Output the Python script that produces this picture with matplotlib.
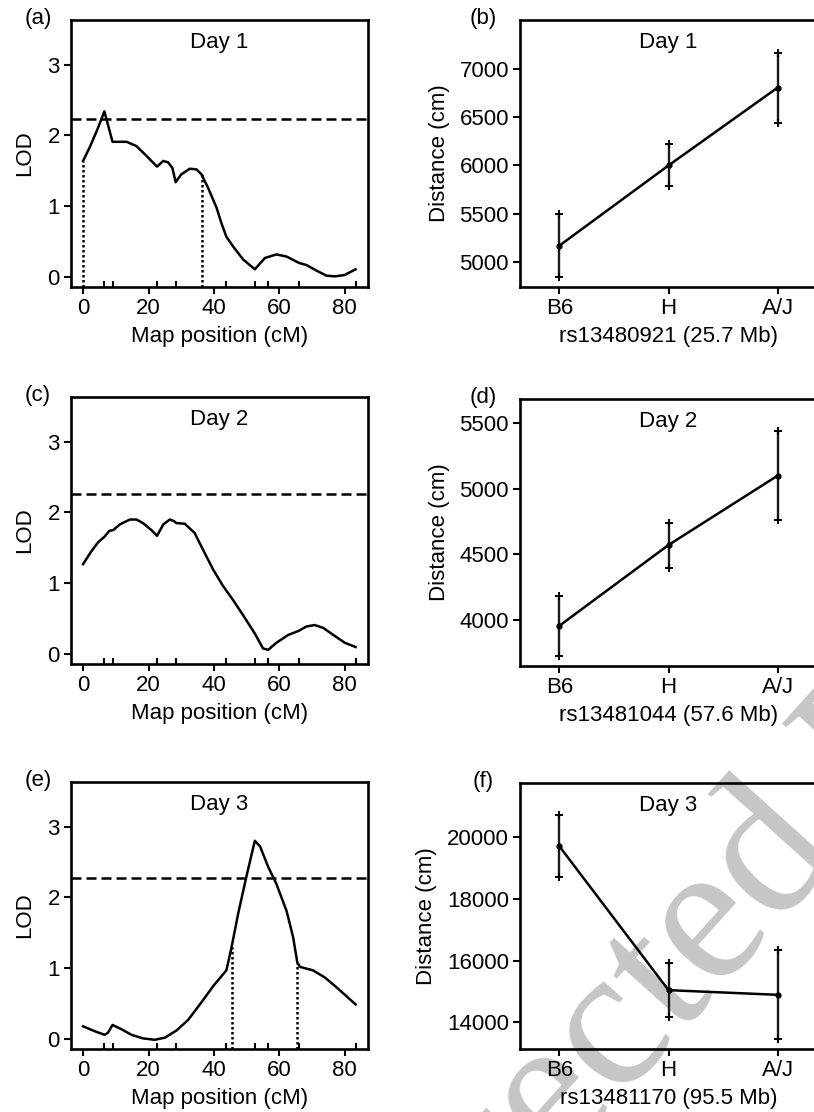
import numpy as np
import matplotlib
matplotlib.use("Agg")
import matplotlib.pyplot as plt

plt.rcParams['font.family'] = ['Liberation Sans', 'DejaVu Sans']
plt.rcParams['font.size'] = 16

# marker positions along the chromosome (cM)
markers = [0, 6.3, 9.0, 22.6, 28.3, 43.8, 52.5, 56.6, 65.9, 83.3]

# LOD profiles
day1_pos = [0, 2.2, 4.5, 6.5, 9.0, 13.3, 16.3, 19.4, 22.6, 24.5, 26.0, 27.3, 28.3, 30.0,
            32.6, 34.7, 36.2, 38.2, 40.8, 42.3, 43.8, 45.9, 48.9, 52.5, 55.6, 59.1, 62.2,
            66.0, 68.3, 71.4, 74.4, 77.0, 80.0, 83.3]
day1_lod = [1.64, 1.85, 2.10, 2.34, 1.91, 1.91, 1.85, 1.71, 1.56, 1.64, 1.62, 1.54, 1.34, 1.45,
            1.53, 1.52, 1.45, 1.26, 0.98, 0.76, 0.57, 0.43, 0.25, 0.11, 0.27, 0.32, 0.29,
            0.20, 0.17, 0.09, 0.02, 0.01, 0.03, 0.11]

day2_pos = [0, 2.5, 4.6, 6.6, 8.0, 9.2, 11.2, 14.3, 16.3, 18.3, 20.9, 22.6, 24.5, 26.5, 27.7,
            28.5, 31.1, 34.1, 36.7, 39.8, 42.8, 45.9, 48.9, 52.5, 55.0, 56.6, 59.1, 62.7,
            66.0, 68.3, 70.8, 73.4, 76.5, 80.0, 83.3]
day2_lod = [1.27, 1.45, 1.58, 1.66, 1.74, 1.75, 1.83, 1.90, 1.90, 1.85, 1.75, 1.67, 1.83, 1.90, 1.88,
            1.85, 1.84, 1.71, 1.47, 1.19, 0.96, 0.76, 0.55, 0.29, 0.08, 0.06, 0.16, 0.27,
            0.33, 0.39, 0.41, 0.37, 0.27, 0.16, 0.10]

day3_pos = [0, 3.6, 6.6, 7.6, 9.0, 11.7, 14.8, 18.3, 21.9, 25.0, 28.5, 32.1, 36.2, 39.8, 43.8,
            45.4, 47.4, 50.0, 52.5, 54.1, 56.6, 59.1, 62.2, 64.2, 65.5, 66.3, 70.3, 73.9,
            77.5, 83.3]
day3_lod = [0.18, 0.11, 0.06, 0.09, 0.20, 0.14, 0.06, 0.01, -0.01, 0.02, 0.12, 0.27, 0.52, 0.75, 0.97,
            1.30, 1.77, 2.31, 2.80, 2.72, 2.43, 2.19, 1.81, 1.44, 1.08, 1.02, 0.97, 0.87,
            0.73, 0.49]

thresholds = [2.23, 2.26, 2.28]
day1_ci = [0, 36.2]
day3_ci = [45.4, 65.5]

# genotype means with interval ends
genotypes = ['B6', 'H', 'A/J']
day1_mean = [5169, 6000, 6807]
day1_low = [4845, 5783, 6438]
day1_high = [5496, 6221, 7169]
day2_mean = [3952, 4569, 5099]
day2_low = [3722, 4395, 4763]
day2_high = [4181, 4735, 5436]
day3_mean = [19699, 15043, 14892]
day3_low = [18710, 14161, 13462]
day3_high = [20699, 15935, 16333]

snps = ['rs13480921 (25.7 Mb)', 'rs13481044 (57.6 Mb)', 'rs13481170 (95.5 Mb)']

W, H = 814, 1112
fig = plt.figure(figsize=(W / 100, H / 100), dpi=100)

def box(left, top, bottom, width=297):
    return fig.add_axes([left / W, (H - bottom) / H, width / W, (bottom - top) / H])

def style(ax):
    for s in ax.spines.values():
        s.set_linewidth(1.9)
    ax.set_facecolor('none')
    ax.tick_params(which='major', direction='out', length=5, width=1.5, pad=3)

def lod_panel(ax, pos, lod, thr, ci, day, letter):
    style(ax)
    ax.plot(pos, lod, color='black', lw=1.8, solid_joinstyle='round')
    ax.axhline(thr, color='black', lw=1.8, dashes=(4, 2))
    ylo = -0.14
    for c in ci:
        ax.vlines(c, ylo, np.interp(c, pos, lod), color='black', lw=1.8, linestyles=(0, (1, 1)))
    ax.set_xlim(-3.7, 87.1)
    ax.set_ylim(ylo, 3.63)
    ax.set_xticks([0, 20, 40, 60, 80])
    ax.set_yticks([0, 1, 2, 3])
    ax.set_xticks(markers, minor=True)
    ax.tick_params(which='minor', direction='in', length=4, width=1.5)
    ax.set_xlabel('Map position (cM)', labelpad=5)
    ax.set_ylabel('LOD', labelpad=9)
    ax.text(0.5, 0.915, day, transform=ax.transAxes, ha='center', va='center')
    ax.text(-0.111, 1.005, letter, transform=ax.transAxes, ha='center', va='center')

def geno_panel(ax, mean, low, high, ylim, yticks, snp, day, letter):
    style(ax)
    x = np.arange(len(genotypes))
    mean = np.array(mean)
    err = [mean - np.array(low), np.array(high) - mean]
    ax.errorbar(x, mean, yerr=err, fmt='none', ecolor='#1a1a1a', elinewidth=1.7)
    ax.plot(x, low, '+', color='black', ms=6, mew=1.4)
    ax.plot(x, high, '+', color='black', ms=6, mew=1.4)
    ax.plot(x, mean, '-', color='black', lw=1.8)
    ax.plot(x, mean, 'o', color='black', ms=3.5)
    ax.set_xlim(-0.36, 2.36)
    ax.set_ylim(*ylim)
    ax.set_xticks(x)
    ax.set_xticklabels(genotypes)
    ax.set_yticks(yticks)
    ax.set_xlabel(snp, labelpad=5)
    ax.set_ylabel('Distance (cm)', labelpad=7)
    ax.text(0.5, 0.915, day, transform=ax.transAxes, ha='center', va='center')
    ax.text(-0.125, 1.005, letter, transform=ax.transAxes, ha='center', va='center')

# grey stamp across the lower right, behind the panels
wm_size = 145
wm_kw = dict(fontsize=wm_size, family='Liberation Serif', color='#c6c6c6')
renderer = fig.canvas.get_renderer()
widths = []
for s in ['Uncorrect', 'Uncorrecte']:
    probe = fig.text(0, 0, s, **wm_kw)
    widths.append(probe.get_window_extent(renderer).width)
    probe.remove()
em = wm_size * 100 / 72
ang = np.deg2rad(48)
along = np.array([np.cos(ang), np.sin(ang)])
up = np.array([-np.sin(ang), np.cos(ang)])
e_mid = np.array([712.0, H - 930.0])
start = e_mid - along * (widths[0] + widths[1]) / 2 - up * 0.23 * em
fig.text(start[0] / W, start[1] / H, 'Uncorrected Proof', rotation=48,
         rotation_mode='anchor', ha='left', va='baseline', zorder=-1, **wm_kw)

lod_panel(box(71, 20, 287), day1_pos, day1_lod, thresholds[0], day1_ci, 'Day 1', '(a)')
lod_panel(box(71, 397, 664), day2_pos, day2_lod, thresholds[1], [], 'Day 2', '(c)')
lod_panel(box(71, 782, 1049), day3_pos, day3_lod, thresholds[2], day3_ci, 'Day 3', '(e)')

geno_panel(box(520, 20, 287), day1_mean, day1_low, day1_high, (4741, 7507),
           [5000, 5500, 6000, 6500, 7000], snps[0], 'Day 1', '(b)')
geno_panel(box(520, 399, 666), day2_mean, day2_low, day2_high, (3645, 5684),
           [4000, 4500, 5000, 5500], snps[1], 'Day 2', '(d)')
geno_panel(box(520, 783, 1049), day3_mean, day3_low, day3_high, (13140, 21742),
           [14000, 16000, 18000, 20000], snps[2], 'Day 3', '(f)')

fig.savefig('out.png', dpi=100)
